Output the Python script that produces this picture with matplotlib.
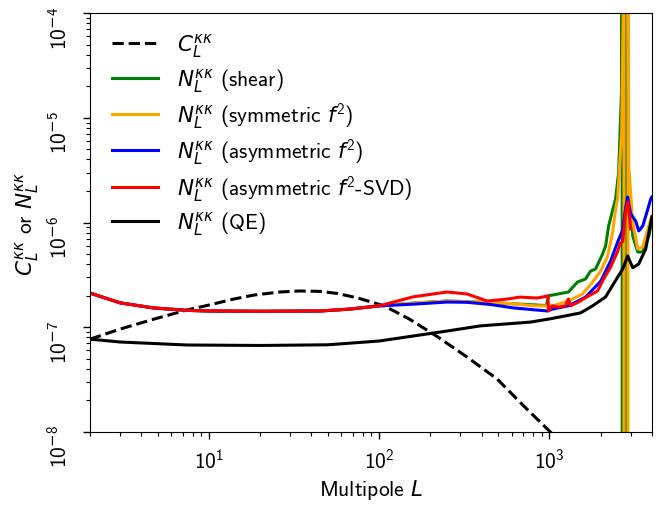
import matplotlib
matplotlib.use("Agg")
import matplotlib.pyplot as plt
import matplotlib.transforms as mtransforms
from matplotlib.ticker import FuncFormatter
import numpy as np
import warnings
warnings.filterwarnings("ignore")

plt.rcParams['font.family'] = 'cmss10'
plt.rcParams['font.size'] = 15.5
plt.rcParams['mathtext.fontset'] = 'custom'
plt.rcParams['mathtext.rm'] = 'cmss10'
plt.rcParams['mathtext.sf'] = 'DejaVu Sans'
plt.rcParams['mathtext.it'] = 'DejaVu Sans:italic'

# Signal C_L^kk
L_signal = [2, 3, 4.7, 7.4, 10, 14, 18.4, 26, 34, 45, 57, 75, 107, 150, 218, 328, 494, 700, 1014, 1300]
C_signal = [7.7e-8, 9.6e-8, 1.19e-7, 1.46e-7, 1.63e-7, 1.86e-7, 2.03e-7, 2.17e-7, 2.22e-7, 2.2e-7,
            2.1e-7, 1.9e-7, 1.6e-7, 1.2e-7, 8.2e-8, 5.2e-8, 3.2e-8, 1.8e-8, 1.0e-8, 6.5e-9]

# shared low-L part of the f^2 / shear reconstructions
L_low = [2, 3, 4.7, 7.4, 10, 20, 45, 67, 100]
N_low = [2.12e-7, 1.71e-7, 1.53e-7, 1.45e-7, 1.43e-7, 1.42e-7, 1.43e-7, 1.49e-7, 1.60e-7]

# shear
L_shear = L_low + [158, 250, 392, 600, 960, 990, 1130, 1294, 1463, 1631, 1746, 1868, 2054, 2140,
                   2230, 2387, 2451, 2553, 2660, 2672, 2678, 2680, 2806, 2808, 2850, 2926,
                   3089, 3305, 3537, 3837, 4000]
N_shear = N_low + [1.70e-7, 1.78e-7, 1.74e-7, 1.68e-7, 1.61e-7, 2.0e-7, 2.08e-7, 2.17e-7, 2.70e-7,
                   2.89e-7, 3.44e-7, 3.60e-7, 5.0e-7, 5.97e-7, 9.27e-7, 1.44e-6, 1.68e-6, 3.03e-6,
                   2.01e-5, 2e-4, 1e-3, -1e-6, -1e-6, 1e-3, 8e-6, 2.78e-6,
                   7.43e-7, 5.23e-7, 5.23e-7, 7.43e-7, 1.01e-6]

# symmetric f^2
L_sym = L_low + [158, 250, 392, 600, 826, 1042, 1294, 1566, 1794, 2002, 2200, 2355, 2451, 2518,
                 2660, 2730, 2744, 2746, 2895, 2897, 2926, 3089, 3305, 3537, 3837, 4000]
N_sym = N_low + [1.70e-7, 1.78e-7, 1.74e-7, 1.68e-7, 1.60e-7, 1.60e-7, 1.78e-7, 2.08e-7, 2.70e-7,
                 3.44e-7, 4.79e-7, 8.12e-7, 1.35e-6, 1.68e-6,
                 7.3e-6, 2e-4, 1e-3, -1e-6, -1e-6, 1e-3, 3.46e-6, 1.01e-6, 5.59e-7, 5.84e-7,
                 9.27e-7, 1.15e-6]

# asymmetric f^2
L_asym = L_low + [158, 250, 328, 450, 614, 973, 1042, 1294, 1631, 2002, 2291, 2518, 2697, 2808,
                  2886, 2926, 3006, 3216, 3350, 3537, 3683, 3943, 4000]
N_asym = N_low + [1.66e-7, 1.74e-7, 1.73e-7, 1.65e-7, 1.53e-7, 1.43e-7, 1.49e-7, 1.60e-7, 1.94e-7,
                  2.75e-7, 4.3e-7, 6.5e-7, 8.5e-7, 1.4e-6, 1.75e-6, 1.5e-6, 1.21e-6, 1.03e-6,
                  8.3e-7, 9.27e-7, 1.15e-6, 1.68e-6, 1.75e-6]

# asymmetric f^2 - SVD
L_svd = L_low + [158, 250, 328, 431, 565, 675, 849, 980, 990, 1042, 1130, 1243, 1294, 1331, 1483,
                 1698, 1918, 2054, 2291, 2518, 2600, 2697, 2808, 2886, 2926, 3006]
N_svd = N_low + [1.95e-7, 2.17e-7, 2.08e-7, 1.78e-7, 1.86e-7, 1.94e-7, 1.90e-7, 1.99e-7, 1.43e-7,
                 1.60e-7, 1.56e-7, 1.60e-7, 1.86e-7, 1.60e-7, 1.74e-7, 1.99e-7, 2.22e-7, 2.77e-7,
                 3.76e-7, 5.3e-7, 6.3e-7, 6.6e-7, 1.29e-6, 1.57e-6, 1.35e-6, 8.67e-7]

# QE
L_qe = [2, 3, 7.4, 20, 50, 100, 250, 392, 773, 1000, 1294, 1524, 1794, 2140, 2451, 2697, 2886,
        3089, 3350, 3683, 4000]
N_qe = [7.7e-8, 7.23e-8, 6.77e-8, 6.7e-8, 6.8e-8, 7.39e-8, 9.2e-8, 1.03e-7, 1.12e-7, 1.2e-7,
        1.30e-7, 1.37e-7, 1.6e-7, 1.95e-7, 2.8e-7, 3.6e-7, 4.79e-7, 3.7e-7, 4.02e-7, 5.59e-7, 1.13e-6]

labels = [r'$C_L^{\kappa\kappa}$',
          r'$N_L^{\kappa\kappa}$ (shear)',
          r'$N_L^{\kappa\kappa}$ (symmetric $f^2$)',
          r'$N_L^{\kappa\kappa}$ (asymmetric $f^2$)',
          r'$N_L^{\kappa\kappa}$ (asymmetric $f^2$-SVD)',
          r'$N_L^{\kappa\kappa}$ (QE)']


def pow10(v, pos):
    e = int(round(np.log10(v)))
    if e < 0:
        return r'$10^{\mathsf{-}%d}$' % (-e)
    return r'$10^{%d}$' % e


fig = plt.figure(figsize=(6.72, 5.1), dpi=100)
ax = fig.add_axes([0.134, 0.151, 0.836, 0.8215])
ax.set_xscale('log')
ax.set_yscale('log', nonpositive='clip')
lw = 2.2
ax.plot(L_signal, C_signal, color='black', ls='--', lw=lw, label=labels[0])
ax.plot(L_shear, N_shear, color='green', lw=lw, label=labels[1])
ax.plot(L_sym, N_sym, color='orange', lw=lw, label=labels[2])
ax.plot(L_asym, N_asym, color='blue', lw=lw, label=labels[3])
ax.plot(L_svd, N_svd, color='red', lw=lw, label=labels[4])
ax.plot(L_qe, N_qe, color='black', lw=lw, label=labels[5])

ax.set_xlim(2, 4000)
ax.set_ylim(1e-8, 1e-4)
ax.xaxis.set_major_formatter(FuncFormatter(pow10))
ax.yaxis.set_major_formatter(FuncFormatter(pow10))
ax.set_xlabel(r'Multipole $L$', labelpad=4)
ax.set_ylabel(r'$C_L^{\kappa\kappa}$ or $N_L^{\kappa\kappa}$', labelpad=4)
ax.tick_params(which='major', length=5, width=1)
ax.tick_params(which='minor', length=3, width=0.8)
ax.tick_params(axis='x', which='major', pad=6)
ax.tick_params(axis='y', which='major', labelrotation=90, pad=9)
for lab in ax.get_yticklabels():
    lab.set_verticalalignment('center')
ax.legend(loc='upper left', bbox_to_anchor=(0.0125, 0.992), frameon=False, handlelength=2.15,
          borderaxespad=0.3, borderpad=0.4, labelspacing=0.3, handletextpad=0.85)

fig.canvas.draw()
offset = mtransforms.ScaledTranslation(0, -10 / 72, fig.dpi_scale_trans)
for t in ax.yaxis.get_major_ticks():
    t.label1.set_transform(t.label1.get_transform() + offset)
fig.savefig('out.png', dpi=100)
